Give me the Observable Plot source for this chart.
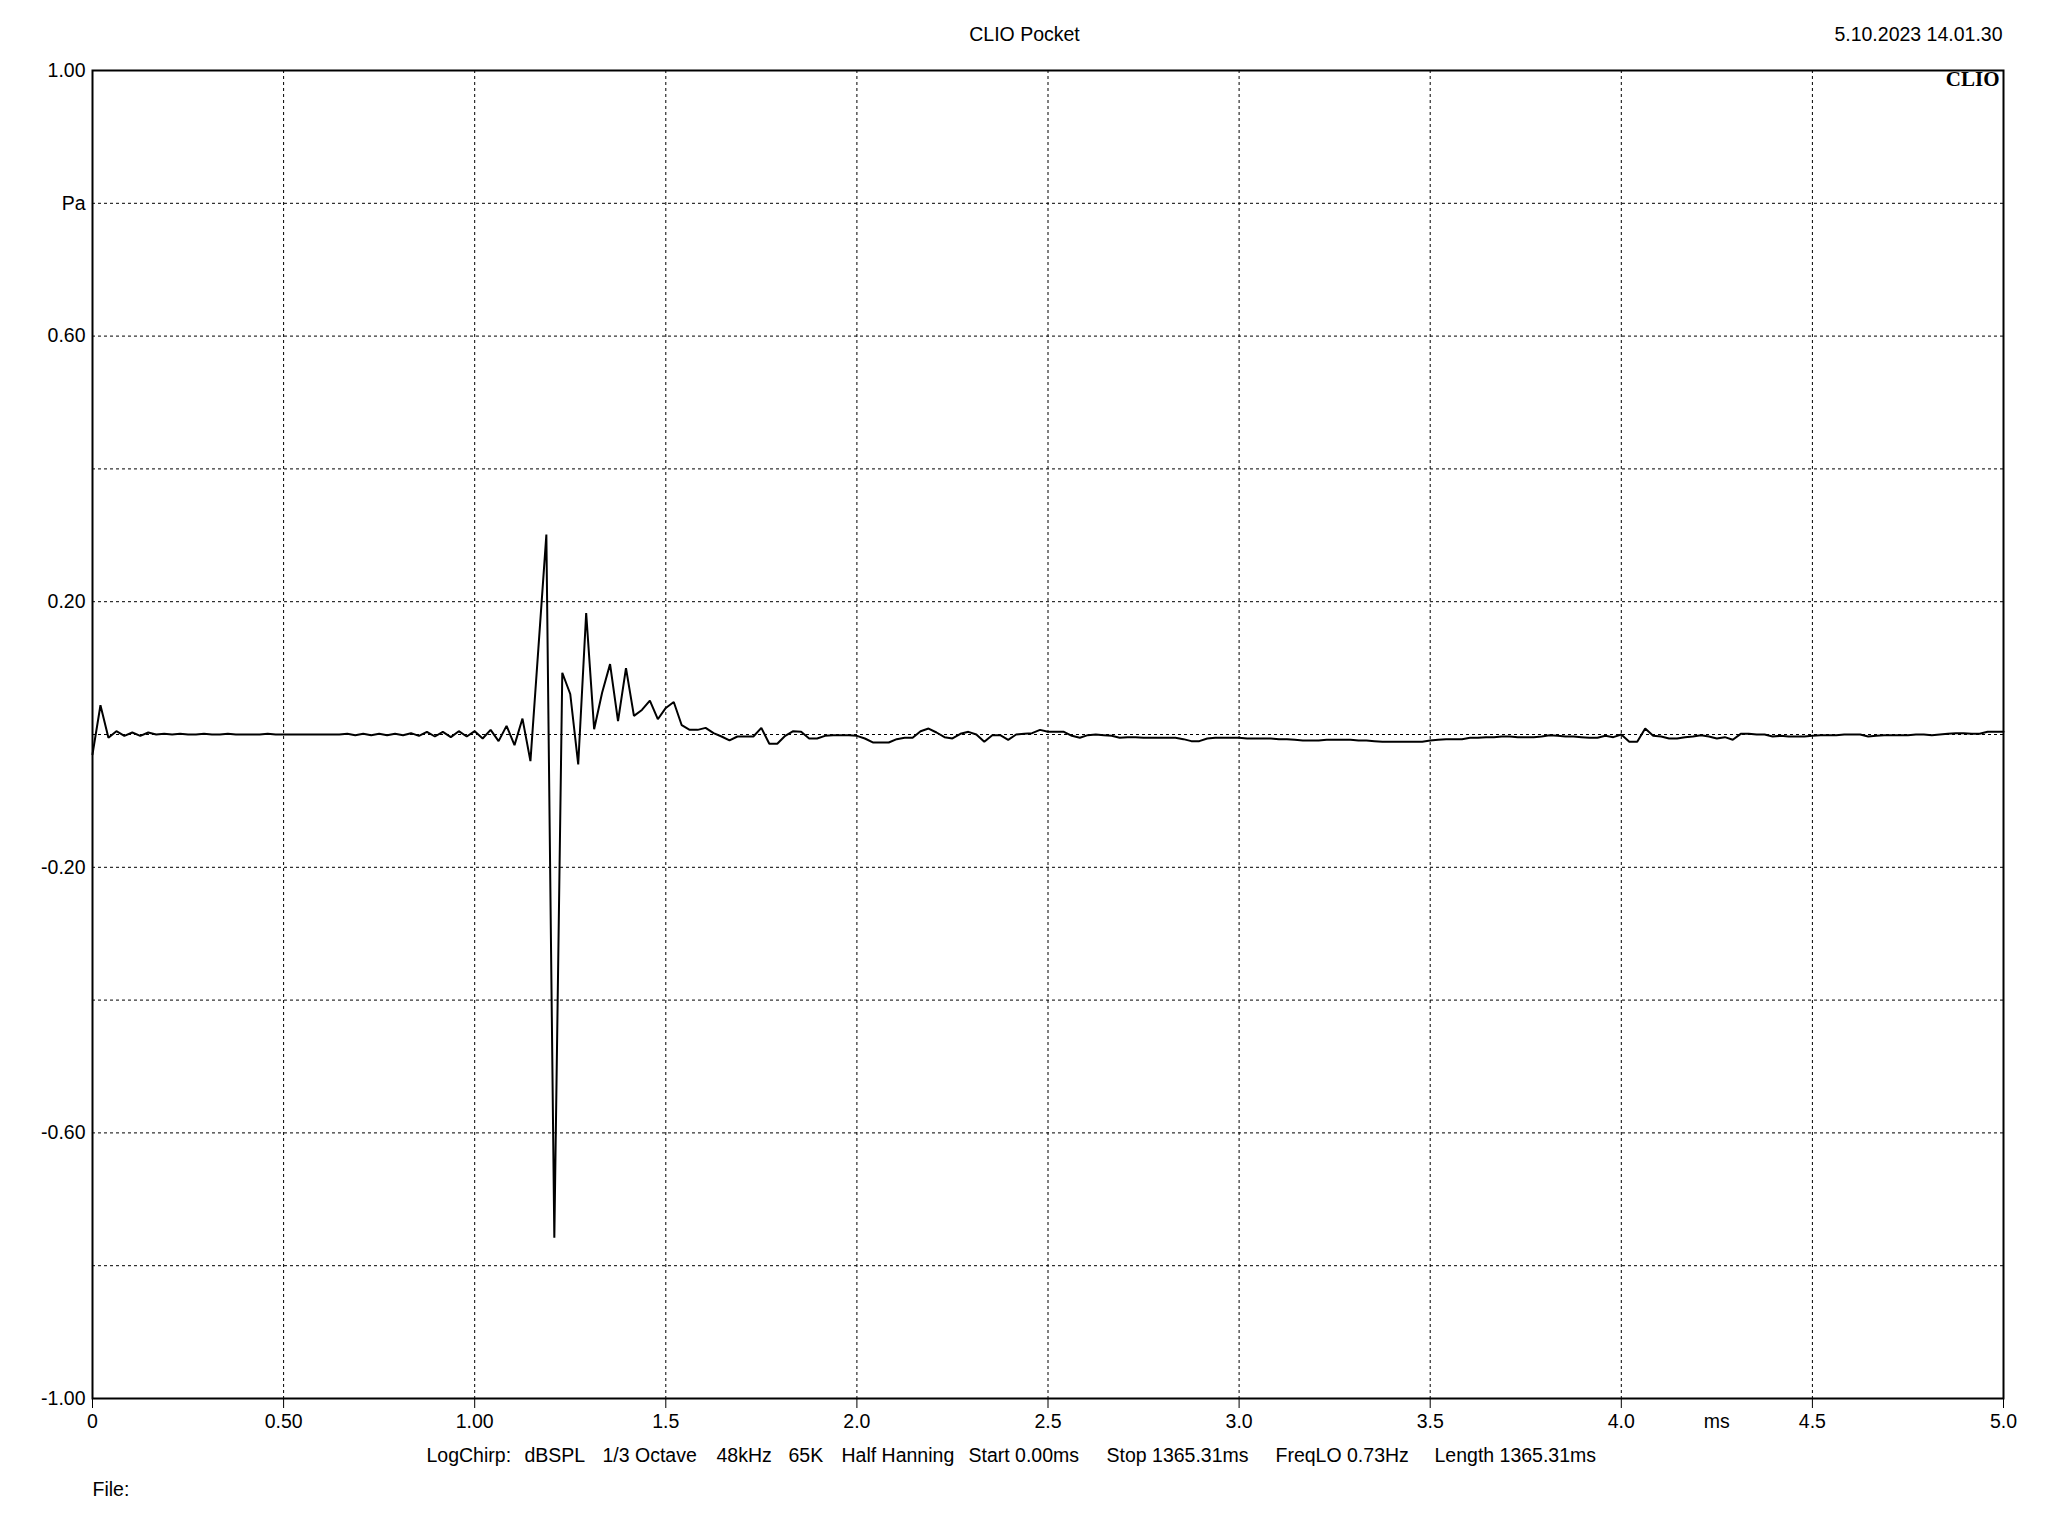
<!DOCTYPE html>
<html>
<head>
<meta charset="utf-8">
<script src="https://cdn.jsdelivr.net/npm/d3@7"></script>
<script src="https://cdn.jsdelivr.net/npm/@observablehq/plot@0.6"></script>
<style>
html, body { margin: 0; padding: 0; background: #fff; }
#chart svg { display: block; }
</style>
</head>
<body>
<div id="chart"></div>
<script>
// ---- data ----
const sampleRateKHz = 48; // samples per ms
const pressure = [
  -0.030, 0.044, -0.005, 0.005, -0.002, 0.003, -0.002, 0.003, 0.000, 0.001,
  0.000, 0.001, 0.000, 0.000, 0.001, 0.000, 0.000, 0.001, 0.000, 0.000,
  0.000, 0.000, 0.001, 0.000, 0.000, 0.000, 0.000, 0.000, 0.000, 0.000,
  0.000, 0.000, 0.001, -0.001, 0.001, -0.001, 0.001, -0.001, 0.001, -0.001,
  0.002, -0.002, 0.004, -0.003, 0.004, -0.004, 0.005, -0.003, 0.005, -0.006,
  0.007, -0.010, 0.013, -0.016, 0.024, -0.040, 0.130, 0.301, -0.758, 0.093,
  0.061, -0.045, 0.183, 0.008, 0.063, 0.106, 0.020, 0.100, 0.028, 0.037,
  0.051, 0.023, 0.040, 0.049, 0.014, 0.007, 0.007, 0.010, 0.002, -0.003,
  -0.009, -0.003, -0.003, -0.003, 0.010, -0.014, -0.014, -0.002, 0.005, 0.004,
  -0.006, -0.006, -0.002, -0.001, -0.001, -0.001, -0.002, -0.006, -0.012, -0.012,
  -0.012, -0.007, -0.005, -0.005, 0.005, 0.009, 0.003, -0.004, -0.006, 0.001,
  0.004, 0.000, -0.011, -0.001, -0.001, -0.008, 0.000, 0.001, 0.002, 0.007,
  0.004, 0.004, 0.004, -0.002, -0.005, -0.001, 0.000, -0.001, -0.002, -0.005,
  -0.004, -0.004, -0.005, -0.005, -0.005, -0.005, -0.005, -0.007, -0.010, -0.010,
  -0.006, -0.005, -0.005, -0.005, -0.005, -0.006, -0.006, -0.006, -0.006, -0.007,
  -0.007, -0.008, -0.009, -0.009, -0.009, -0.008, -0.008, -0.008, -0.008, -0.009,
  -0.009, -0.010, -0.011, -0.011, -0.011, -0.011, -0.011, -0.011, -0.009, -0.008,
  -0.007, -0.007, -0.007, -0.005, -0.005, -0.004, -0.004, -0.003, -0.003, -0.004,
  -0.004, -0.004, -0.003, -0.001, -0.002, -0.003, -0.003, -0.004, -0.005, -0.005,
  -0.002, -0.004, 0.000, -0.011, -0.011, 0.009, -0.002, -0.003, -0.006, -0.006,
  -0.004, -0.003, -0.001, -0.003, -0.006, -0.004, -0.008, 0.001, 0.001, 0.000,
  0.000, -0.003, -0.002, -0.003, -0.003, -0.003, -0.002, -0.001, -0.001, -0.001,
  0.000, 0.000, 0.000, -0.003, -0.002, -0.001, -0.001, -0.001, -0.001, 0.000,
  0.000, -0.001, 0.000, 0.001, 0.002, 0.002, 0.001, 0.001, 0.004, 0.004,
  0.004
];
const xTicks = [0, 0.5, 1, 1.5, 2, 2.5, 3, 3.5, 4, 4.5, 5];
const xTickLabels = ["0", "0.50", "1.00", "1.5", "2.0", "2.5", "3.0", "3.5", "4.0", "4.5", "5.0"];
const yTicks = [-1, -0.8, -0.6, -0.4, -0.2, 0, 0.2, 0.4, 0.6, 0.8, 1];
const yTickLabels = ["-1.00", "", "-0.60", "", "-0.20", "", "0.20", "", "0.60", "Pa", "1.00"];
const xUnit = "ms";
const xUnitAt = 4.25;
const title = "CLIO Pocket";
const timestamp = "5.10.2023 14.01.30";
const brand = "CLIO";
const footerItems = ["LogChirp:", "dBSPL", "1/3 Octave", "48kHz", "65K", "Half Hanning",
  "Start 0.00ms", "Stop 1365.31ms", "FreqLO 0.73Hz", "Length 1365.31ms"];
const fileLabel = "File:";

// ---- layout ----
const W = 2048, H = 1536;
const mL = 92, mR = 45, mT = 70, mB = 138;
const font = '"Liberation Sans", Arial, sans-serif';
const fs = 19.5;
const footerX = [426, 524, 602, 716, 788, 841, 968, 1106, 1275, 1434];

const rows = pressure.map((v, i) => ({t: i / sampleRateKHz, v}));
const gridStyle = {stroke: "black", strokeOpacity: 1, strokeWidth: 1, strokeDasharray: "3,3"};
const txt = {fill: "black", fontSize: fs, fontFamily: font};

const chart = Plot.plot({
  width: W, height: H,
  marginLeft: mL, marginRight: mR, marginTop: mT, marginBottom: mB,
  style: {fontFamily: font, fontSize: fs + "px", color: "black", background: "white"},
  x: {domain: [0, 5]},
  y: {domain: [-1, 1]},
  marks: [
    Plot.gridX(xTicks.slice(1, -1), gridStyle),
    Plot.gridY(yTicks.slice(1, -1), gridStyle),
    Plot.line(rows, {x: "t", y: "v", stroke: "black", strokeWidth: 2, strokeLinejoin: "miter"}),
    Plot.frame({stroke: "black", strokeWidth: 2}),
    Plot.axisX(xTicks, {
      tickFormat: d => xTickLabels[xTicks.indexOf(d)],
      tickSize: 10, tickPadding: 6, label: null, fontSize: fs, stroke: "black"
    }),
    Plot.axisY(yTicks, {
      tickFormat: d => yTickLabels[yTicks.indexOf(d)],
      tickSize: 0, tickPadding: 7, label: null, fontSize: fs
    }),
    Plot.text([xUnit], {x: () => xUnitAt, frameAnchor: "bottom", dy: 23, lineAnchor: "middle", text: d => d, ...txt}),
    Plot.text([title], {frameAnchor: "top", dx: -23.5, dy: -36, lineAnchor: "middle", text: d => d, ...txt}),
    Plot.text([timestamp], {frameAnchor: "top-right", textAnchor: "end", dx: -1, dy: -36, lineAnchor: "middle", text: d => d, ...txt}),
    Plot.text([brand], {frameAnchor: "top-right", textAnchor: "end", lineAnchor: "top", dx: -4, dy: 1,
      text: d => d, fill: "black", fontSize: 21, fontWeight: "bold", fontFamily: '"Liberation Serif", "DejaVu Serif", serif'}),
    ...footerItems.map((s, i) => Plot.text([s], {frameAnchor: "bottom-left", textAnchor: "start", dx: footerX[i] - mL, dy: 57, lineAnchor: "middle", text: d => d, ...txt})),
    Plot.text([fileLabel], {frameAnchor: "bottom-left", textAnchor: "start", dx: 0, dy: 91, lineAnchor: "middle", text: d => d, ...txt})
  ]
});
document.getElementById("chart").append(chart);
</script>
</body>
</html>
